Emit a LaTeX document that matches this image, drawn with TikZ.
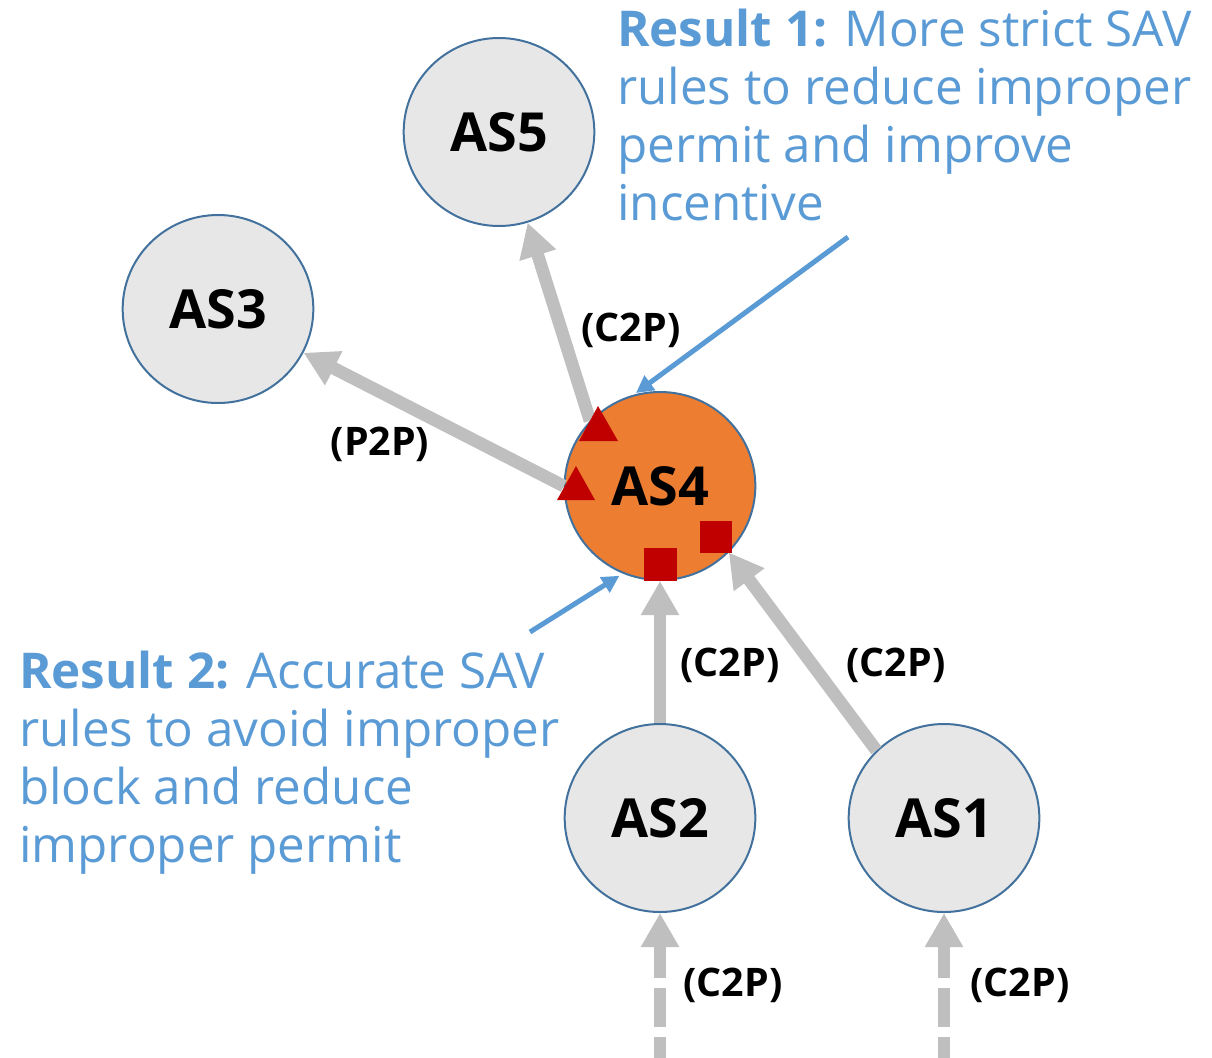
\documentclass[tikz,border=0pt]{standalone}
\usepackage{fontspec}
\setmainfont{Open Sans}
\usetikzlibrary{arrows.meta,shapes.geometric}
\definecolor{asfill}{RGB}{231,231,231}
\definecolor{asline}{RGB}{65,113,156}
\definecolor{asorange}{RGB}{237,125,49}
\definecolor{linkgray}{RGB}{191,191,191}
\definecolor{markred}{RGB}{192,0,0}
\definecolor{noteblue}{RGB}{91,155,213}
\begin{document}
\begin{tikzpicture}[x=0.75pt,y=-0.75pt,
  asnode/.style={ellipse, draw=asline, line width=1.5pt, fill=asfill,
    minimum width=143pt, minimum height=141pt, inner sep=0pt,
    font=\fontsize{40.4}{42}\selectfont\bfseries},
  link/.style={draw=linkgray, line width=9.5pt,
    -{Triangle[width=27pt,length=25.5pt]}},
  feed/.style={link, dash pattern=on 29.25pt off 7.5pt},
  rel/.style={inner sep=0pt, font=\fontsize{29.5}{32}\selectfont\bfseries},
  note/.style={inner sep=0pt, text=noteblue, anchor=base west,
    font=\fontsize{37}{43.5}\selectfont},
  pointer/.style={draw=noteblue, line width=3.75pt,
    -{Triangle[width=13pt,length=13pt]}}
]
\useasboundingbox (0,0) rectangle (1212,1057);

% autonomous systems
\node[asnode] (AS5) at (499,132) {AS5};
\node[asnode] (AS3) at (218,309) {AS3};
\node[asnode, fill=asorange] (AS4) at (660,486) {AS4};
\node[asnode] (AS2) at (660,818) {AS2};
\node[asnode] (AS1) at (944,818) {AS1};

% business relationships
\draw[link] (AS4.137) -- (AS5);
\draw[link] (AS4.180) -- (AS3);
\draw[link] (AS2) -- (AS4);
\draw[link] (AS1.135) -- (AS4.-44);
\coordinate (in2) at (660,1076);
\coordinate (in1) at (944,1076);
\draw[feed] (in2) -- (AS2);
\draw[feed] (in1) -- (AS1);

\node[rel] (r45) at (631,330) {(C2P)};
\node[rel] (r43) at (380,444) {(P2P)};
\node[rel] (r24) at (730,665) {(C2P)};
\node[rel] (r14) at (896,665) {(C2P)};
\node[rel] (r02) at (733,985) {(C2P)};
\node[rel] (r01) at (1020,985) {(C2P)};

% SAV markers on AS4
\fill[markred] (598,406) -- (618,441) -- (579,441) -- cycle;
\fill[markred] (576,466) -- (595,500) -- (557,500) -- cycle;
\fill[markred] (644,548) rectangle (677,581);
\fill[markred] (700,521) rectangle (732,553);

% results
\node[note] (res1) at (617,46) {\parbox[t]{600pt}{\textbf{Result 1:} More strict SAV\\rules to reduce improper\\permit and improve\\incentive}};
\node[note] (res2) at (19,688) {\parbox[t]{600pt}{\textbf{Result 2:} Accurate SAV\\rules to avoid improper\\block and reduce\\improper permit}};
\coordinate (p1) at (848,237);
\coordinate (p2) at (530,632);
\draw[pointer, shorten >=2pt] (p1) -- (AS4.106);
\draw[pointer, shorten >=3pt] (p2) -- (AS4.247);
\end{tikzpicture}
\end{document}
